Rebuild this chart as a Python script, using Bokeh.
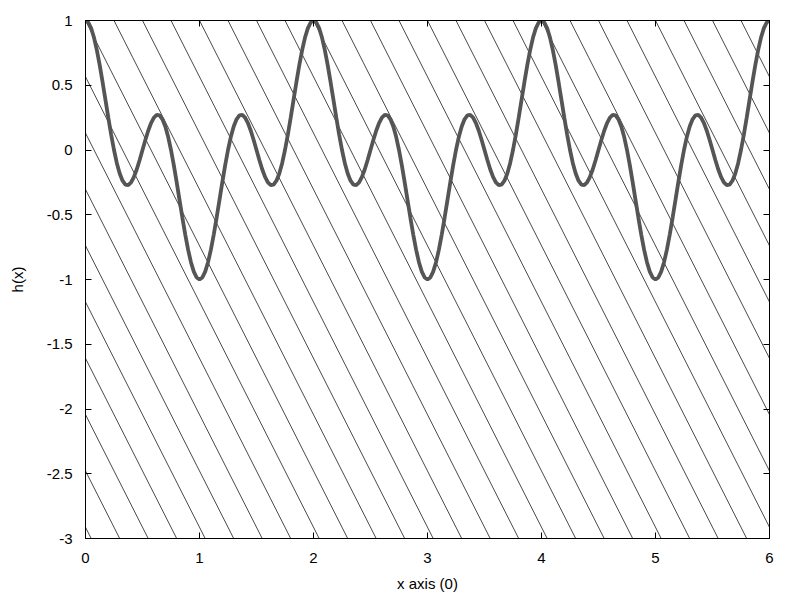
import numpy as np
from bokeh.plotting import figure
from bokeh.models import Range1d, LinearAxis, FixedTicker
from bokeh.embed import file_html
from bokeh.resources import INLINE

# ---- data ----
x_values = [round(i * 0.025, 3) for i in range(241)]
h_values = [
    1, 0.9846, 0.9394, 0.8664, 0.7694, 0.6533, 0.5237, 0.3871, 0.25, 0.119,
    0, -0.1016, -0.1816, -0.2372, -0.2669, -0.2706, -0.25, -0.208, -0.1488, -0.0775,
    0, 0.0775, 0.1488, 0.208, 0.25, 0.2706, 0.2669, 0.2372, 0.1816, 0.1016,
    0, -0.119, -0.25, -0.3871, -0.5237, -0.6533, -0.7694, -0.8664, -0.9394, -0.9846,
    -1, -0.9846, -0.9394, -0.8664, -0.7694, -0.6533, -0.5237, -0.3871, -0.25, -0.119,
    0, 0.1016, 0.1816, 0.2372, 0.2669, 0.2706, 0.25, 0.208, 0.1488, 0.0775,
    0, -0.0775, -0.1488, -0.208, -0.25, -0.2706, -0.2669, -0.2372, -0.1816, -0.1016,
    0, 0.119, 0.25, 0.3871, 0.5237, 0.6533, 0.7694, 0.8664, 0.9394, 0.9846,
    1, 0.9846, 0.9394, 0.8664, 0.7694, 0.6533, 0.5237, 0.3871, 0.25, 0.119,
    0, -0.1016, -0.1816, -0.2372, -0.2669, -0.2706, -0.25, -0.208, -0.1488, -0.0775,
    0, 0.0775, 0.1488, 0.208, 0.25, 0.2706, 0.2669, 0.2372, 0.1816, 0.1016,
    0, -0.119, -0.25, -0.3871, -0.5237, -0.6533, -0.7694, -0.8664, -0.9394, -0.9846,
    -1, -0.9846, -0.9394, -0.8664, -0.7694, -0.6533, -0.5237, -0.3871, -0.25, -0.119,
    0, 0.1016, 0.1816, 0.2372, 0.2669, 0.2706, 0.25, 0.208, 0.1488, 0.0775,
    0, -0.0775, -0.1488, -0.208, -0.25, -0.2706, -0.2669, -0.2372, -0.1816, -0.1016,
    0, 0.119, 0.25, 0.3871, 0.5237, 0.6533, 0.7694, 0.8664, 0.9394, 0.9846,
    1, 0.9846, 0.9394, 0.8664, 0.7694, 0.6533, 0.5237, 0.3871, 0.25, 0.119,
    0, -0.1016, -0.1816, -0.2372, -0.2669, -0.2706, -0.25, -0.208, -0.1488, -0.0775,
    0, 0.0775, 0.1488, 0.208, 0.25, 0.2706, 0.2669, 0.2372, 0.1816, 0.1016,
    0, -0.119, -0.25, -0.3871, -0.5237, -0.6533, -0.7694, -0.8664, -0.9394, -0.9846,
    -1, -0.9846, -0.9394, -0.8664, -0.7694, -0.6533, -0.5237, -0.3871, -0.25, -0.119,
    0, 0.1016, 0.1816, 0.2372, 0.2669, 0.2706, 0.25, 0.208, 0.1488, 0.0775,
    0, -0.0775, -0.1488, -0.208, -0.25, -0.2706, -0.2669, -0.2372, -0.1816, -0.1016,
    0, 0.119, 0.25, 0.3871, 0.5237, 0.6533, 0.7694, 0.8664, 0.9394, 0.9846,
    1,
]
x_ticks = [0, 1, 2, 3, 4, 5, 6]
x_tick_labels = ["0", "1", "2", "3", "4", "5", "6"]
y_ticks = [-3, -2.5, -2, -1.5, -1, -0.5, 0, 0.5, 1]
y_tick_labels = ["-3", "-2.5", "-2", "-1.5", "-1", "-0.5", "0", "0.5", "1"]
x_label = "x axis (0)"
y_label = "h(x)"

FONT = "Liberation Sans"
FSIZE = "15px"

p = figure(
    frame_width=684, frame_height=518,
    min_border_left=85, min_border_right=23, min_border_top=20, min_border_bottom=54,
    x_range=Range1d(0, 6), y_range=Range1d(-3, 1),
    output_backend="svg", toolbar_location=None,
    background_fill_color="white", border_fill_color="white",
)
p.grid.visible = False
p.outline_line_color = "black"
p.outline_line_width = 1

# background hatch lines (pure decoration: slanted fill pattern)
m = np.arange(-12, 26)
hx0 = 0.25 * m
hx1 = hx0 + 2.30
p.segment(x0=hx0, y0=np.full(len(m), 1.0), x1=hx1, y1=np.full(len(m), -3.0),
          line_color="#1a1a1a", line_width=0.8)

# curve
p.line(x_values, h_values, line_color="#555555", line_width=3.8)

def style_axis(ax, ticks, labels, show_labels=True):
    ax.ticker = FixedTicker(ticks=ticks)
    ax.major_label_overrides = {t: l for t, l in zip(ticks, labels)}
    ax.major_tick_in = 6
    ax.major_tick_out = 0
    ax.minor_tick_line_color = None
    ax.axis_line_color = "black"
    ax.major_tick_line_color = "black"
    ax.major_label_text_font = FONT
    ax.major_label_text_color = "black"
    if show_labels:
        ax.major_label_text_font_size = FSIZE
    else:
        ax.major_label_text_font_size = "0px"
        ax.major_label_text_alpha = 0

xa = p.xaxis[0]
style_axis(xa, x_ticks, x_tick_labels)
xa.major_label_standoff = 14
xa.axis_label = x_label
xa.axis_label_text_font = FONT
xa.axis_label_text_font_size = FSIZE
xa.axis_label_text_font_style = "normal"
xa.axis_label_text_color = "black"
xa.axis_label_standoff = 9

ya = p.yaxis[0]
style_axis(ya, y_ticks, y_tick_labels)
ya.major_label_standoff = 13
ya.axis_label = y_label
ya.axis_label_text_font = FONT
ya.axis_label_text_font_size = FSIZE
ya.axis_label_text_font_style = "normal"
ya.axis_label_text_color = "black"
ya.axis_label_standoff = 18

top = LinearAxis()
style_axis(top, x_ticks, x_tick_labels, show_labels=False)
p.add_layout(top, "above")
right = LinearAxis()
style_axis(right, y_ticks, y_tick_labels, show_labels=False)
p.add_layout(right, "right")

open("out.html", "w").write(file_html(p, INLINE))
